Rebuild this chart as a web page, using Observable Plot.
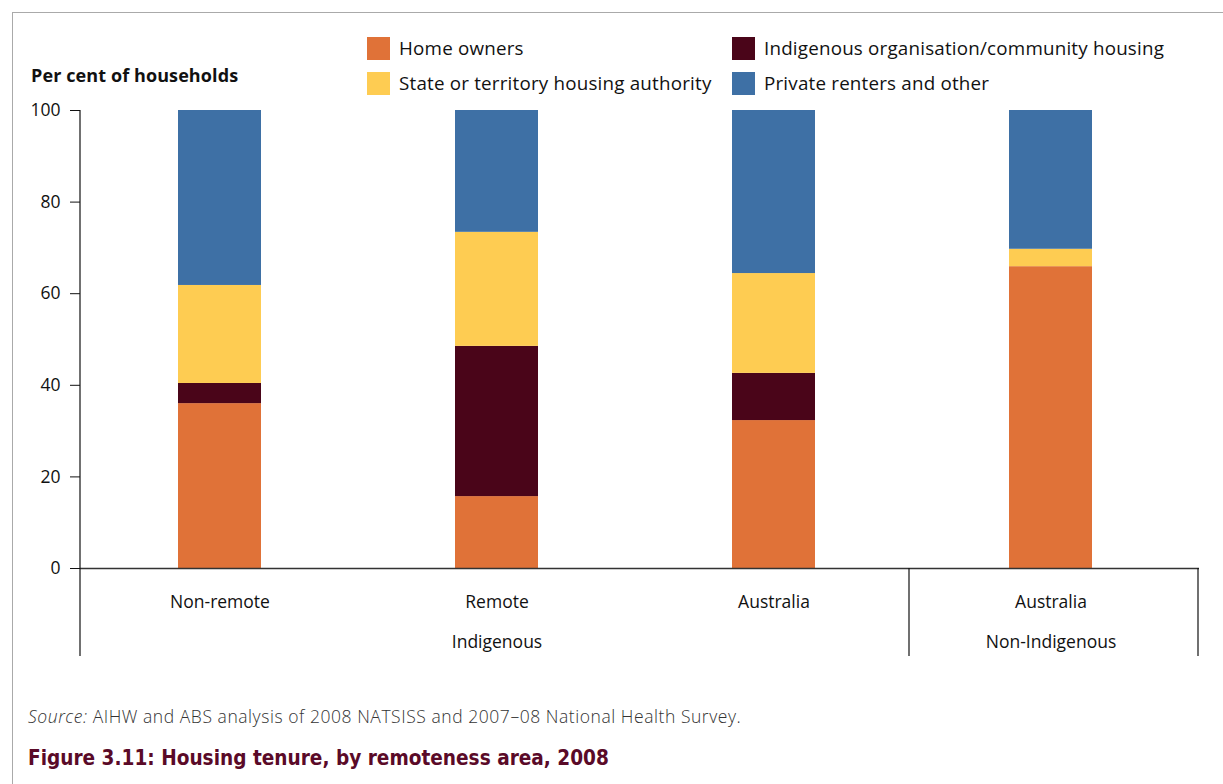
<!DOCTYPE html>
<html><head><meta charset="utf-8">
<script src="https://cdn.jsdelivr.net/npm/d3@7"></script>
<script src="https://cdn.jsdelivr.net/npm/@observablehq/plot@0.6"></script>
<style>
body{margin:0;background:#fff;font-family:"Open Sans",sans-serif;}
#wrap{position:relative;width:1223px;height:784px;overflow:hidden;}
#frame{position:absolute;left:12px;top:12px;width:1300px;height:900px;border-top:1.5px solid #aaa;border-left:1.5px solid #aaa;}
#chart{position:absolute;left:0;top:0;}
.leg{position:absolute;font-size:18.8px;color:#111;display:flex;align-items:center;white-space:nowrap;letter-spacing:0.2px;}
.sw{width:23px;height:23px;margin-right:9px;}
#ylab{position:absolute;left:31px;top:63px;font-weight:bold;font-size:18px;color:#111;letter-spacing:0.1px;}
#src{position:absolute;left:28px;top:704px;font-size:17.5px;color:#333;font-weight:300;letter-spacing:0.55px;}
#title{position:absolute;left:28px;top:746px;font-weight:bold;font-size:20.6px;color:#5a0a28;font-family:"DejaVu Sans Condensed","DejaVu Sans",sans-serif;font-stretch:condensed;}
</style></head>
<body><div id="wrap"><div id="frame"></div><div id="chart"></div>
<div id="ylab">Per cent of households</div>
<div id="src"><i>Source:</i> AIHW and ABS analysis of 2008 NATSISS and 2007–08 National Health Survey.</div>
<div id="title">Figure 3.11: Housing tenure, by remoteness area, 2008</div>
</div>
<script>
const categories = ["Non-remote", "Remote", "Australia", "Australia "];
const groups = ["Indigenous", "Indigenous", "Indigenous", "Non-Indigenous"];
const series = ["Home owners", "Indigenous organisation/community housing", "State or territory housing authority", "Private renters and other"];
const colors = ["#e07238", "#4a0519", "#fecc52", "#3e70a5"];
const homeOwners = [36.0, 15.7, 32.3, 65.9];
const indigenousOrg = [4.4, 32.8, 10.3, 0];
const stateHousing = [21.4, 24.9, 21.8, 3.8];
const privateRenters = [38.2, 26.6, 35.6, 30.3];
const yTicks = [0, 20, 40, 60, 80, 100];

const seriesValues = [homeOwners, indigenousOrg, stateHousing, privateRenters];
const data = [];
series.forEach((s, si) => categories.forEach((c, ci) => data.push({category: c, series: s, value: seriesValues[si][ci]})));

// legend
const legPos = [[367,35],[732,35],[367,70],[732,70]];
const wrap = document.getElementById("wrap");
series.forEach((s, i) => {
  const d = document.createElement("div");
  d.className = "leg";
  d.style.left = legPos[i][0] + "px"; d.style.top = legPos[i][1] + "px";
  d.innerHTML = `<div class="sw" style="background:${colors[i]}"></div><span>${s}</span>`;
  wrap.appendChild(d);
});

// group dividers drawn from scales
function groupLines(index, scales, values, dims) {
  const g = d3.create("svg:g").attr("stroke", "#111").attr("stroke-width", 1.2);
  const y0 = dims.height - dims.marginBottom;
  const yBottom = y0 + 88;
  g.append("line").attr("x1", dims.marginLeft).attr("x2", dims.marginLeft).attr("y1", dims.marginTop).attr("y2", yBottom);
  for (let i = 1; i < categories.length; i++) {
    if (groups[i] !== groups[i-1]) {
      const xb = (scales.x(categories[i-1]) + scales.x.bandwidth() + scales.x(categories[i])) / 2 - 3;
      g.append("line").attr("x1", xb).attr("x2", xb).attr("y1", y0).attr("y2", yBottom);
    }
  }
  const xr = dims.width - dims.marginRight - 1;
  g.append("line").attr("x1", xr).attr("x2", xr).attr("y1", y0).attr("y2", yBottom);
  return g.node();
}

const groupLabels = [{category: "Remote", label: "Indigenous"}, {category: "Australia ", label: "Non-Indigenous"}];

const plot = Plot.plot({
  width: 1223, height: 784,
  marginLeft: 80, marginRight: 24, marginTop: 110, marginBottom: 216,
  style: {fontFamily: "Open Sans, sans-serif", fontSize: "18px", color: "#111", background: "transparent"},
  x: {domain: categories, paddingInner: 0.7, paddingOuter: 0.35, insetRight: 9, label: null, axis: null},
  y: {domain: [0, 100], label: null, ticks: yTicks, axis: null},
  color: {domain: series, range: colors},
  marks: [
    Plot.barY(data, Plot.stackY({order: series, x: "category", y: "value", fill: "series"})),
    Plot.ruleY([0], {stroke: "#333", strokeWidth: 1.5}),
    Plot.axisY({ticks: yTicks, tickSize: 10, tickPadding: 10, fontSize: 17.5, tickFormat: d => d, label: null, stroke: "#111"}),
    Plot.text(categories, {x: d => d, frameAnchor: "bottom", dy: 39, text: d => d.trim(), fontSize: 17.5, fill: "#111"}),
    Plot.text(groupLabels, {x: "category", frameAnchor: "bottom", dy: 79, text: "label", fontSize: 17.5, fill: "#111"}),
    groupLines
  ]
});
document.getElementById("chart").appendChild(plot);
</script></body></html>
